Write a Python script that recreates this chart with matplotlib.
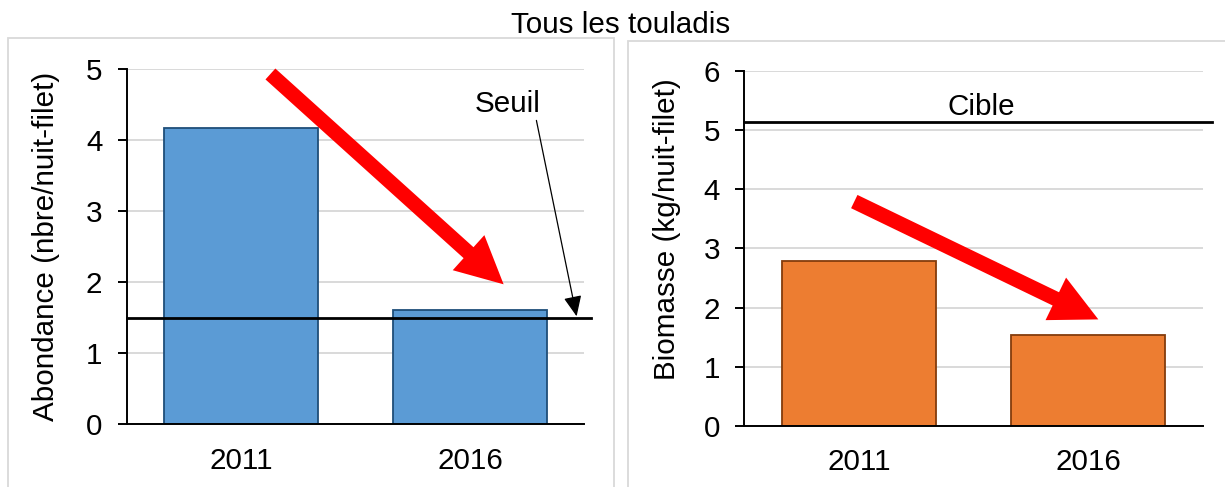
import matplotlib
matplotlib.use("Agg")
import matplotlib.pyplot as plt
from matplotlib.patches import Rectangle

# ── Data ──────────────────────────────────────────────────────────────────────
years         = ["2011", "2016"]
abondance     = [4.17, 1.61]
biomasse      = [2.79, 1.53]
seuil         = 1.5
cible         = 5.13

title         = "Tous les touladis"
ylabel_left   = "Abondance (nbre/nuit-filet)"
ylabel_right  = "Biomasse (kg/nuit-filet)"

# ── Style ─────────────────────────────────────────────────────────────────────
BLUE    = "#5B9BD5"
BLUE_E  = "#1F4E79"
ORANGE  = "#ED7D31"
ORANGE_E= "#843C0C"
GRID    = "#D9D9D9"
RED     = "#FF0000"
FS      = 21.3

plt.rcParams["font.family"] = ["Liberation Sans", "DejaVu Sans"]

fig = plt.figure(figsize=(12.25, 4.87), dpi=100, facecolor="white")

# panel frames (Excel chart-area borders)
fig.add_artist(Rectangle((8 / 1225, -0.1), (614.3 - 8) / 1225, 1.1 - 38.3 / 487,
                         transform=fig.transFigure, fill=False, ec=GRID, lw=1.3))
fig.add_artist(Rectangle((627.5 / 1225, -0.1), 0.5, 1.1 - 40.8 / 487,
                         transform=fig.transFigure, fill=False, ec=GRID, lw=1.3))

fig.text(0.507, 0.9316, title, ha="center", va="baseline", fontsize=FS)

ax1 = fig.add_axes([0.10343, 0.12875, 0.37363, 0.72957])
ax2 = fig.add_axes([0.60759, 0.12526, 0.37412, 0.72957])


def style_ax(ax, ymax, ylabel, label_x, label_y):
    ax.set_xlim(-0.5, 1.5)
    ax.set_ylim(0, ymax)
    ax.set_yticks(range(ymax + 1))
    ax.set_xticks(range(len(years)))
    ax.set_xticklabels(years)
    ax.grid(axis="y", color=GRID, lw=1.4, zorder=0)
    ax.set_axisbelow(True)
    for side in ("top", "right"):
        ax.spines[side].set_visible(False)
    for side in ("left", "bottom"):
        ax.spines[side].set_linewidth(1.4)
    ax.tick_params(axis="y", length=6.5, width=1.4, pad=11, labelsize=FS)
    ax.tick_params(axis="x", length=0, pad=16, labelsize=FS)
    ax.set_ylabel(ylabel, fontsize=FS, va="center")
    ax.yaxis.set_label_coords(label_x, label_y)


# ── Left: abondance ───────────────────────────────────────────────────────────
ax1.bar(range(len(years)), abondance, width=0.67, color=BLUE,
        edgecolor=BLUE_E, lw=1.3, zorder=2)
style_ax(ax1, 5, ylabel_left, -0.1763, 0.5)
ax1.plot([-0.5, 1.53], [seuil, seuil], color="black", lw=2.0,
         clip_on=False, zorder=3)
ax1.annotate("Seuil", xy=(1.466, seuil + 0.02), xytext=(1.164, 4.40),
             ha="center", va="baseline", fontsize=FS,
             arrowprops=dict(arrowstyle="-|>,head_length=1.25,head_width=0.55",
                             mutation_scale=10, color="black", lw=0.9,
                             shrinkA=0, shrinkB=0, relpos=(0.93, 0.0)))
ax1.annotate("", xy=(1.147, 1.97), xytext=(0.128, 4.93),
             arrowprops=dict(arrowstyle="simple,head_length=3.4,head_width=3.4,tail_width=1.06",
                             mutation_scale=10, fc=RED, ec="none",
                             shrinkA=0, shrinkB=0), zorder=4)

# ── Right: biomasse ───────────────────────────────────────────────────────────
ax2.bar(range(len(years)), biomasse, width=0.67, color=ORANGE,
        edgecolor=ORANGE_E, lw=1.3, zorder=2)
style_ax(ax2, 6, ylabel_right, -0.1687, 0.554)
ax2.plot([-0.5, 1.54], [cible, cible], color="black", lw=2.0,
         clip_on=False, zorder=3)
ax2.text(0.533, 5.26, "Cible", ha="center", va="baseline", fontsize=FS)
ax2.annotate("", xy=(1.045, 1.80), xytext=(-0.02, 3.79),
             arrowprops=dict(arrowstyle="simple,head_length=3.4,head_width=3.4,tail_width=1.06",
                             mutation_scale=10, fc=RED, ec="none",
                             shrinkA=0, shrinkB=0), zorder=4)

plt.savefig("out.png", dpi=100, facecolor="white")
plt.close(fig)
